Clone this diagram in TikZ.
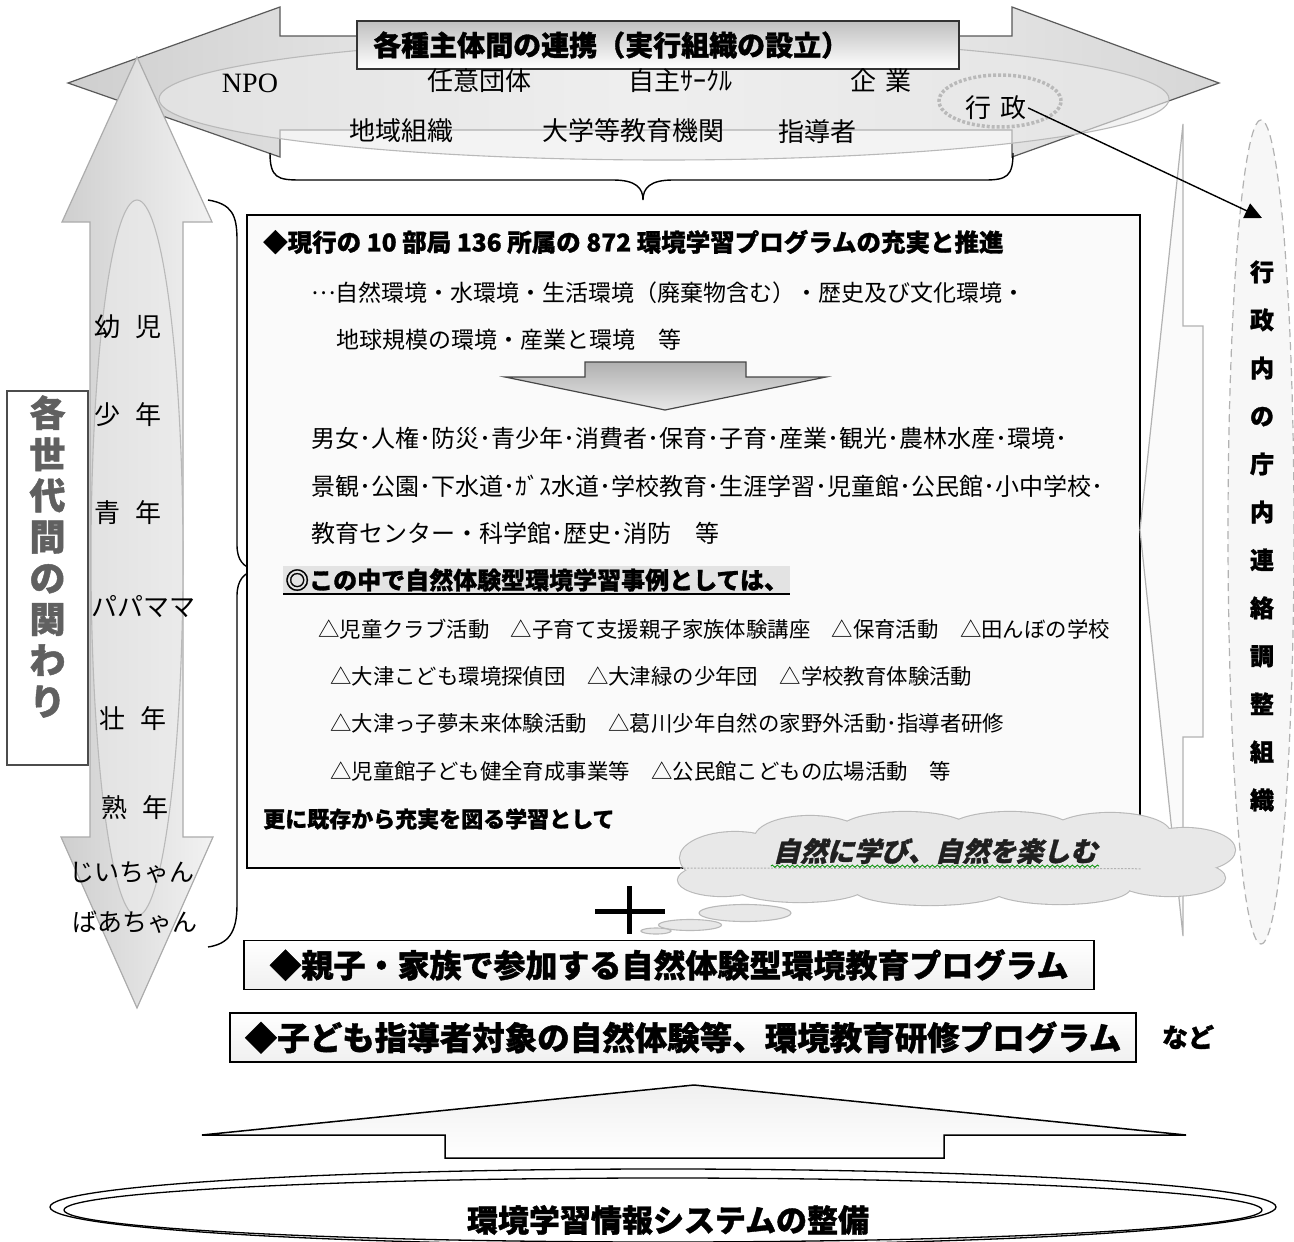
\documentclass[tikz,border=0pt]{standalone}
\usepackage{fontspec}
\setmainfont{Noto Sans CJK JP}[BoldFeatures={FakeBold=1.2}]
\newfontfamily\npofont{Liberation Serif}
\newfontfamily\slantfont{Noto Sans CJK JP}[FakeSlant=0.25,BoldFeatures={FakeBold=1.2}]
\usetikzlibrary{shapes.geometric,arrows.meta,decorations.pathmorphing}
\newcommand\fsz[1]{\fontsize{#1}{#1}\selectfont}
\tikzset{
  txt/.style={inner sep=1pt, anchor=west},
  ctxt/.style={inner sep=1pt},
  topshade/.style={draw=gray!70!black, line width=1.2, left color=gray!38, right color=gray!32, middle color=gray!8},
  leftshade/.style={draw=gray!65, line width=1.2, left color=gray!38, right color=gray!10},
  softell/.style={ellipse, draw=gray!55, line width=1.1, fill=gray!16, fill opacity=0.6, text opacity=1},
  bracepath/.style={draw=black, line width=1.4},
  progbox/.style={rectangle, draw=black, line width=1.8, top color=white, bottom color=gray!12, inner sep=0},
  bubble/.style={ellipse, draw=gray!55, line width=1.1, fill=gray!18, inner sep=0},
}
\newcommand\cloudlobes{%
  \path (735,858) ellipse [x radius=55, y radius=26];
  \path (810,838) ellipse [x radius=55, y radius=22];
  \path (905,830) ellipse [x radius=65, y radius=18];
  \path (1010,830) ellipse [x radius=62, y radius=18];
  \path (1110,833) ellipse [x radius=60, y radius=20];
  \path (1185,850) ellipse [x radius=50, y radius=22];
  \path (1170,878) ellipse [x radius=55, y radius=18];
  \path (1060,888) ellipse [x radius=70, y radius=16];
  \path (930,890) ellipse [x radius=75, y radius=15];
  \path (800,887) ellipse [x radius=65, y radius=15];
  \path (722,880) ellipse [x radius=44, y radius=16];
  \path (957,860) ellipse [x radius=240, y radius=30];
}
\begin{document}
\begin{tikzpicture}[x=1pt,y=-1pt]
\useasboundingbox (0,0) rectangle (1294,1242);
\fill[white] (0,0) rectangle (1294,1242);

% ---- top double arrow and collaboration ellipse
\draw[topshade] (68,83) -- (280,7) -- (280,36) -- (1012,36) -- (1012,7) -- (1219,83) -- (1012,157) -- (1012,130) -- (280,130) -- (280,157) -- cycle;
\node[softell, minimum width=1010, minimum height=122] (collab) at (664,99) {};
\node[rectangle, minimum width=602, minimum height=48, top color=gray!50, bottom color=white, draw=gray!40!black, line width=1.5] (titlebox) at (658,45) {};
\node[txt, font=\fsz{28}\bfseries] (titletext) at (372,45) {各種主体間の連携（実行組織の設立）};

\node[ctxt, font=\npofont\fsz{28}] (npo) at (250,83) {NPO};
\node[ctxt, font=\fsz{26}] (nini) at (479,81) {任意団体};
\node[ctxt, font=\fsz{26}] (circle) at (680,81) {自主ｻｰｸﾙ};
\node[ctxt, font=\fsz{26}] (kigyo) at (881,81) {企\hspace{10pt}業};
\node[ellipse, draw=gray!55, line width=3.5, dash pattern=on 3pt off 2pt, minimum width=122, minimum height=52] (gyosei) at (1000,101) {};
\node[ctxt, font=\fsz{26}] (gyoseitext) at (996,108) {行\hspace{10pt}政};
\node[ctxt, font=\fsz{26}] (chiiki) at (401,131) {地域組織};
\node[ctxt, font=\fsz{26}] (daigaku) at (633,131) {大学等教育機関};
\node[ctxt, font=\fsz{26}] (shido) at (817,132) {指導者};

% ---- top brace
\draw[bracepath] (270,153) .. controls (270,178) and (278,180) .. (300,180) -- (613,180) .. controls (636,180) and (643,188) .. (643,200) .. controls (643,188) and (650,180) .. (673,180) -- (985,180) .. controls (1007,180) and (1013,176) .. (1013,153);

% ---- left generations arrow
\draw[leftshade] (137,57) -- (212,222) -- (183,222) -- (183,837) -- (213,837) -- (137,1008) -- (61,837) -- (90,837) -- (90,222) -- (62,222) -- cycle;
\node[softell, minimum width=92, minimum height=716] (genell) at (137,558) {};
\node[ctxt, font=\fsz{26}] (age1) at (128,327) {幼\hspace{16pt}児};
\node[ctxt, font=\fsz{26}] (age2) at (128,415) {少\hspace{16pt}年};
\node[ctxt, font=\fsz{26}] (age3) at (128,513) {青\hspace{16pt}年};
\node[ctxt, font=\fsz{26}] (age4) at (143,607) {パパママ};
\node[ctxt, font=\fsz{26}] (age5) at (133,719) {壮\hspace{16pt}年};
\node[ctxt, font=\fsz{26}] (age6) at (135,808) {熟\hspace{16pt}年};
\node[ctxt, font=\fsz{25}] (age7) at (132,873) {じいちゃん};
\node[ctxt, font=\fsz{25}] (age8) at (135,922) {ばあちゃん};

\node[rectangle, draw=gray!60!black, line width=1.2, fill=white, minimum width=81, minimum height=374] (genbox) at (47.5,578) {};
\node[inner sep=0, align=center, font=\fontsize{36}{41.2}\selectfont\bfseries, text=gray!75!black] (gentext) at (47.5,556.5) {各\\世\\代\\間\\の\\関\\わ\\り};

% ---- left brace
\draw[bracepath] (208,200) .. controls (232,204) and (237,215) .. (237,240) -- (237,545) .. controls (237,561) and (244,567) .. (255,570) .. controls (244,573) and (237,580) .. (237,596) -- (237,905) .. controls (237,933) and (228,944) .. (208,947);

% ---- main box
\node[rectangle, draw=black, line width=1.5, fill=gray!4, minimum width=893, minimum height=653] (mainbox) at (693.5,541.5) {};
\node[txt, font=\fsz{24.5}\bfseries] (l1) at (262,242) {◆現行の 10 部局 136 所属の 872 環境学習プログラムの充実と推進};
\node[txt, font=\fsz{23}] (l2) at (310,293) {\raisebox{0.33em}{…}自然環境・水環境・生活環境（廃棄物含む）・歴史及び文化環境・};
\node[txt, font=\fsz{23}] (l3) at (335,340) {地球規模の環境・産業と環境　等};
\draw[top color=gray!62, bottom color=gray!18, draw=gray!55!black, line width=1.2] (585,362) -- (746,362) -- (746,377) -- (826,377) -- (665,410) -- (505,377) -- (585,377) -- cycle;
\node[txt, font=\fsz{24}] (l4) at (310,438) {男女･人権･防災･青少年･消費者･保育･子育･産業･観光･農林水産･環境･};
\node[txt, font=\fsz{24}] (l5) at (310,486) {景観･公園･下水道･ｶﾞｽ水道･学校教育･生涯学習･児童館･公民館･小中学校･};
\node[txt, font=\fsz{24}] (l6) at (310,533) {教育センター・科学館･歴史･消防　等};
\node[txt, inner sep=2pt, fill=gray!22, font=\fsz{24}\bfseries] (maru) at (283,580) {◎この中で自然体験型環境学習事例としては、};
\draw[line width=1.6] (maru.south west) -- (maru.south east);
\node[txt, font=\fsz{21.4}] (e1) at (317,629) {△児童クラブ活動　△子育て支援親子家族体験講座　△保育活動　△田んぼの学校};
\node[txt, font=\fsz{21.4}] (e2) at (329,676) {△大津こども環境探偵団　△大津緑の少年団　△学校教育体験活動};
\node[txt, font=\fsz{21.4}] (e3) at (329,723) {△大津っ子夢未来体験活動　△葛川少年自然の家野外活動･指導者研修};
\node[txt, font=\fsz{21.4}] (e4) at (329,771) {△児童館子ども健全育成事業等　△公民館こどもの広場活動　等};
\node[txt, font=\fsz{22}\bfseries] (more) at (262,819) {更に既存から充実を図る学習として};

% ---- right side
\draw[draw=gray!60, line width=1.2, fill=gray!4] (1183,124) -- (1183,326) -- (1203,326) -- (1203,737) -- (1183,737) -- (1183,936) -- (1140,530) -- cycle;
\node[ellipse, draw=gray!60, dash pattern=on 8pt off 5pt, line width=1.2, fill=gray!6, minimum width=66, minimum height=824] (rightell) at (1261,532) {};
\node[inner sep=0, align=center, font=\fontsize{24}{48}\selectfont\bfseries] (righttext) at (1262,536) {行\\政\\内\\の\\庁\\内\\連\\絡\\調\\整\\組\\織};
\coordinate (rtarget) at (1262,218);
\draw[line width=1.4, -{Triangle[length=17pt,width=16pt]}] (gyoseitext.east) -- (rtarget);

% ---- cloud and plus
\begin{scope}[draw=gray!55, line width=2.2]
  \begin{scope}[every path/.style={draw}]\cloudlobes\end{scope}
  \begin{scope}[every path/.style={fill=gray!18}]\cloudlobes\end{scope}
\end{scope}
\coordinate (cloudleft) at (680,868);
\draw[gray!60, line width=1, dash pattern=on 2pt off 1.5pt] (cloudleft) -- (mainbox.south east);
\node[bubble, minimum width=92, minimum height=17] (bub1) at (745,913) {};
\node[bubble, minimum width=63, minimum height=11] (bub2) at (690,925) {};
\node[bubble, minimum width=30, minimum height=6] (bub3) at (656,931) {};
\node[inner sep=2pt, font=\slantfont\fsz{27}\bfseries, text=gray!25!black] (cloudtext) at (935,851) {自然に学び、自然を楽しむ};
\draw[green!55!black, line width=0.8, decorate, decoration={snake, segment length=5pt, amplitude=1.2pt}] (cloudtext.south west) -- (cloudtext.south east);
\draw[line width=5] (595,911) -- (665,911);
\draw[line width=5] (629,886) -- (629,934);

% ---- program boxes
\node[progbox, minimum width=850, minimum height=49, font=\fsz{32}\bfseries] (oyako) at (669,965) {◆親子・家族で参加する自然体験型環境教育プログラム};
\node[progbox, minimum width=906, minimum height=49, font=\fsz{32.5}\bfseries] (kodomo) at (683,1037.5) {◆子ども指導者対象の自然体験等、環境教育研修プログラム};
\node[ctxt, font=\fsz{26}\bfseries] (nado) at (1188,1037) {など};

% ---- bottom arrow and ellipse
\draw[top color=gray!12, bottom color=white, draw=black, line width=1.5] (694,1085) -- (1186,1135) -- (944,1135) -- (944,1158) -- (445,1158) -- (445,1135) -- (202,1135) -- cycle;
\node[ellipse, draw=black, line width=1.3, fill=white, minimum width=1226, minimum height=76] (sysell) at (663,1207) {};
\node[ellipse, draw=black, line width=1.3, minimum width=1198, minimum height=64] (sysinner) at (663,1210) {};
\node[ctxt, font=\fsz{31}\bfseries] (systext) at (668,1220) {環境学習情報システムの整備};
\end{tikzpicture}
\end{document}
